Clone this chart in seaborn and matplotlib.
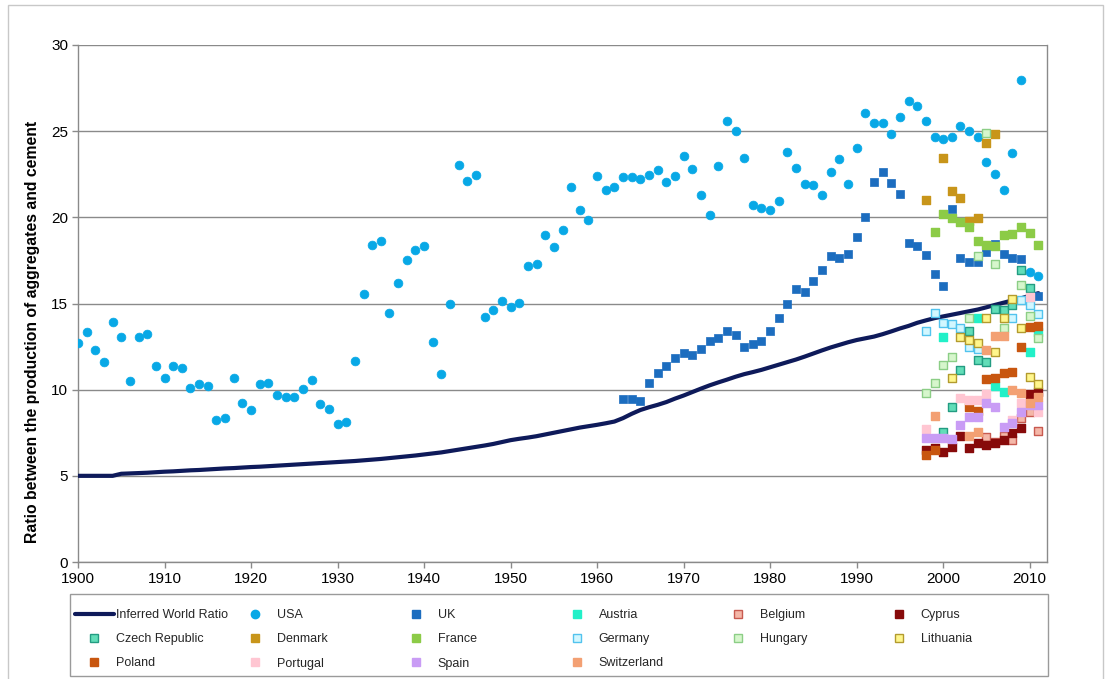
import numpy as np
import pandas as pd
import matplotlib
matplotlib.use("Agg")
import matplotlib.pyplot as plt
from matplotlib.lines import Line2D
from matplotlib.patches import Rectangle
import seaborn as sns

nan = np.nan

# ---- data -------------------------------------------------------------
years = list(range(1900, 2012))

world_ratio = [
    5.00, 5.00, 5.00, 5.00, 5.00, 5.12, 5.14, 5.16, 5.18, 5.21,
    5.24, 5.26, 5.29, 5.32, 5.34, 5.37, 5.40, 5.43, 5.45, 5.48,
    5.51, 5.53, 5.56, 5.59, 5.62, 5.65, 5.68, 5.71, 5.74, 5.77,
    5.80, 5.83, 5.86, 5.90, 5.94, 5.98, 6.03, 6.08, 6.13, 6.18,
    6.24, 6.30, 6.36, 6.44, 6.52, 6.60, 6.68, 6.76, 6.85, 6.96,
    7.07, 7.15, 7.22, 7.30, 7.40, 7.50, 7.60, 7.70, 7.80, 7.88,
    7.96, 8.05, 8.15, 8.35, 8.60, 8.82, 8.98, 9.12, 9.28, 9.48,
    9.66, 9.86, 10.06, 10.25, 10.42, 10.58, 10.75, 10.90, 11.02, 11.15,
    11.30, 11.45, 11.60, 11.75, 11.92, 12.10, 12.28, 12.45, 12.60, 12.75,
    12.88, 12.98, 13.08, 13.22, 13.38, 13.55, 13.70, 13.88, 14.02, 14.15,
    14.25, 14.35, 14.45, 14.55, 14.65, 14.78, 14.92, 15.05, 15.18, 15.30,
    15.45, 15.60,
]

usa = [
    12.7, 13.35, 12.3, 11.6, 13.9, 13.05, 10.5, 13.05, 13.25, 11.4,
    10.7, 11.4, 11.25, 10.1, 10.3, 10.2, 8.25, 8.35, 10.7, 9.2,
    8.8, 10.3, 10.4, 9.7, 9.55, 9.55, 10.05, 10.55, 9.15, 8.85,
    8.0, 8.1, 11.65, 15.55, 18.4, 18.6, 14.45, 16.2, 17.5, 18.1,
    18.35, 12.75, 10.9, 14.95, 23.05, 22.1, 22.45, 14.2, 14.6, 15.15,
    14.8, 15.05, 17.2, 17.3, 19.0, 18.3, 19.25, 21.75, 20.4, 19.85,
    22.4, 21.6, 21.75, 22.35, 22.35, 22.2, 22.45, 22.75, 22.05, 22.4,
    23.55, 22.8, 21.3, 20.15, 23.0, 25.6, 25.0, 23.45, 20.7, 20.55,
    20.45, 20.95, 23.8, 22.85, 21.95, 21.9, 21.3, 22.65, 23.4, 21.95,
    24.05, 26.05, 25.5, 25.5, 24.85, 25.85, 26.75, 26.45, 25.6, 24.65,
    24.55, 24.65, 25.3, 25.0, 24.65, 23.2, 22.5, 21.6, 23.75, 27.95,
    16.85, 16.6,
]

uk_years = list(range(1963, 2012))
uk = [
    9.45, 9.45, 9.35, 10.4, 10.95, 11.4, 11.85,
    12.15, 12.0, 12.35, 12.8, 13.0, 13.4, 13.2, 12.5, 12.65, 12.8,
    13.4, 14.15, 14.95, 15.85, 15.65, 16.3, 16.95, 17.75, 17.65, 17.85,
    18.85, 20.0, 22.05, 22.65, 22.0, 21.35, 18.5, 18.35, 17.8, 16.7,
    16.0, 20.5, 17.65, 17.4, 17.4, 18.0, 18.45, 17.9, 17.65, 17.6,
    15.85, 15.45,
]

eu_years = list(range(1998, 2012))
austria     = [nan, nan, 13.05, nan, nan, nan, 14.15, nan, 10.2, 9.85, nan, nan, 12.2, 13.35]
belgium     = [nan, nan, nan, nan, nan, nan, nan, 7.25, 6.95, 7.3, 7.1, 8.35, 8.7, 7.6]
cyprus      = [6.5, 6.6, 6.4, 6.7, 7.3, 6.6, 6.9, 6.8, 6.9, 7.1, 7.5, 7.8, 9.75, 9.85]
czech       = [nan, nan, 7.55, 9.0, 11.15, 13.4, 11.7, 11.6, 14.7, 14.6, 14.9, 16.95, 15.9, nan]
denmark     = [21.0, nan, 23.45, 21.55, 21.1, 19.8, 19.95, 24.3, 24.85, nan, nan, nan, nan, nan]
france      = [nan, 19.15, 20.2, 19.95, 19.75, 19.45, 18.6, 18.4, 18.35, 18.95, 19.05, 19.45, 19.1, 18.4]
germany     = [13.4, 14.45, 13.85, 13.8, 13.55, 12.5, 12.35, nan, nan, nan, 14.15, 15.2, 14.9, 14.4]
hungary     = [9.8, 10.4, 11.45, 11.9, nan, 14.15, 17.75, 24.9, 17.3, 13.6, nan, 16.1, 14.25, 13.0]
lithuania   = [nan, nan, nan, 10.7, 13.05, 12.9, 12.7, 14.15, 12.2, 14.15, 15.25, 13.6, 10.75, 10.35]
poland      = [6.2, 6.5, nan, nan, nan, 9.0, 8.75, 10.6, 10.7, 10.95, 11.0, 12.5, 13.65, 13.7]
portugal    = [7.7, nan, nan, nan, 9.5, 9.4, 9.4, 9.75, nan, nan, 8.25, 9.2, 15.4, 8.7]
spain       = [7.2, 7.2, 7.2, 7.15, 7.95, 8.4, 8.4, 9.2, 9.0, 7.85, 8.05, 8.7, 9.1, 9.1]
switzerland = [nan, 8.5, nan, nan, nan, 7.3, 7.55, 12.3, 13.1, 13.1, 10.0, 9.8, 9.25, 9.6]

countries = ["Austria", "Belgium", "Cyprus", "Czech Republic", "Denmark", "France",
             "Germany", "Hungary", "Lithuania", "Poland", "Portugal", "Spain",
             "Switzerland"]
country_values = [austria, belgium, cyprus, czech, denmark, france, germany,
                  hungary, lithuania, poland, portugal, spain, switzerland]

# ---- styling ----------------------------------------------------------
world_color = "#0E1A5A"
usa_color = "#08A8E6"
uk_color = "#1C6DBF"
# (face, edge)
country_style = {
    "Austria":        ("#22F0C8", "#22F0C8"),
    "Belgium":        ("#F4B7A8", "#C85A50"),
    "Cyprus":         ("#870A0A", "#870A0A"),
    "Czech Republic": ("#62DDB8", "#239C82"),
    "Denmark":        ("#C8951A", "#C8951A"),
    "France":         ("#8CCB47", "#8CCB47"),
    "Germany":        ("#D2F7FF", "#52C3EE"),
    "Hungary":        ("#D6F6CC", "#8CCE86"),
    "Lithuania":      ("#FFF68C", "#B39B2E"),
    "Poland":         ("#C8560F", "#C8560F"),
    "Portugal":       ("#FFC6D2", "#FFC6D2"),
    "Spain":          ("#C99CF5", "#C99CF5"),
    "Switzerland":    ("#F3A073", "#F3A073"),
}

sns.set_theme(style="white")
plt.rcParams["font.family"] = ["Liberation Sans", "DejaVu Sans"]

W, H = 1111, 679
fig = plt.figure(figsize=(W / 100, H / 100), dpi=100)
ax = fig.add_axes([78 / W, 1 - 562 / H, (1047 - 78) / W, (562 - 45) / H])

world_df = pd.DataFrame({"year": years, "ratio": world_ratio})
usa_df = pd.DataFrame({"year": years, "ratio": usa})
uk_df = pd.DataFrame({"year": uk_years, "ratio": uk})
eu_df = pd.concat(
    [pd.DataFrame({"country": c, "year": eu_years, "ratio": v})
     for c, v in zip(countries, country_values)],
    ignore_index=True,
).dropna()

sns.lineplot(data=world_df, x="year", y="ratio", ax=ax, color=world_color,
             lw=3.0, zorder=3, legend=False)
sns.scatterplot(data=usa_df, x="year", y="ratio", ax=ax, marker="o", s=40,
                color=usa_color, edgecolor=usa_color, linewidth=0.5,
                zorder=4, legend=False)
sns.scatterplot(data=uk_df, x="year", y="ratio", ax=ax, marker="s", s=36,
                color=uk_color, edgecolor=uk_color, linewidth=0.5,
                zorder=4, legend=False)
for c in countries:
    face, edge = country_style[c]
    sub = eu_df[eu_df["country"] == c]
    sns.scatterplot(data=sub, x="year", y="ratio", ax=ax, marker="s", s=34,
                    color=face, edgecolor=edge, linewidth=1.0,
                    zorder=4, legend=False)

ax.set_xlim(1900, 2012)
ax.set_ylim(0, 30)
ax.set_xticks(range(1900, 2011, 10))
ax.set_yticks(range(0, 31, 5))
ax.grid(axis="y", color="#8A8A8A", lw=1.0)
ax.grid(axis="x", visible=False)
ax.set_axisbelow(True)
for side in ("left", "bottom", "right"):
    ax.spines[side].set_color("#8A8A8A")
    ax.spines[side].set_linewidth(1.0)
ax.spines["top"].set_visible(False)
ax.tick_params(axis="both", which="major", direction="out", length=4,
               width=1.0, color="#8A8A8A", labelsize=11, labelcolor="black",
               bottom=True, left=True, pad=3)
ax.set_xlabel("")
ax.set_ylabel("Ratio between the production of aggregates and cement",
              fontsize=11.3, fontweight="bold", color="black")
ax.yaxis.set_label_coords(-38 / (1047 - 78), (562 - 332) / (562 - 45))

# ---- legend: six columns inside one frame ----------------------------
def square(c):
    face, edge = country_style[c]
    return Line2D([], [], ls="", marker="s", markersize=6,
                  markerfacecolor=face, markeredgecolor=edge, markeredgewidth=1.0)

h_world = Line2D([], [], color=world_color, lw=3.0)
h_usa = Line2D([], [], ls="", marker="o", markersize=6,
               markerfacecolor=usa_color, markeredgecolor=usa_color)
h_uk = Line2D([], [], ls="", marker="s", markersize=6,
              markerfacecolor=uk_color, markeredgecolor=uk_color)

columns = [
    [(h_world, "Inferred World Ratio"), (square("Czech Republic"), "Czech Republic"),
     (square("Poland"), "Poland")],
    [(h_usa, "USA"), (square("Denmark"), "Denmark"), (square("Portugal"), "Portugal")],
    [(h_uk, "UK"), (square("France"), "France"), (square("Spain"), "Spain")],
    [(square("Austria"), "Austria"), (square("Germany"), "Germany"),
     (square("Switzerland"), "Switzerland")],
    [(square("Belgium"), "Belgium"), (square("Hungary"), "Hungary")],
    [(square("Cyprus"), "Cyprus"), (square("Lithuania"), "Lithuania")],
]
col_x = [75, 236, 397, 558, 719, 880]
for x0, col in zip(col_x, columns):
    hs, ls = zip(*col)
    fig.legend(hs, ls, loc="upper left", bbox_to_anchor=(x0 / W, 1 - 609 / H),
               frameon=False, borderpad=0, borderaxespad=0, fontsize=9,
               handlelength=3.1, handletextpad=0.15, labelspacing=0.98)

fig.add_artist(Rectangle((70 / W, 1 - 676 / H), (1048 - 70) / W, (676 - 594) / H,
                         transform=fig.transFigure, fill=False,
                         edgecolor="#9A9A9A", lw=1.0))
fig.add_artist(Rectangle((8 / W, -0.02), (1103 - 8) / W, 1 - 5 / H + 0.02,
                         transform=fig.transFigure, fill=False,
                         edgecolor="#C8C8C8", lw=1.0))

fig.savefig("out.png", dpi=100, facecolor="white")
